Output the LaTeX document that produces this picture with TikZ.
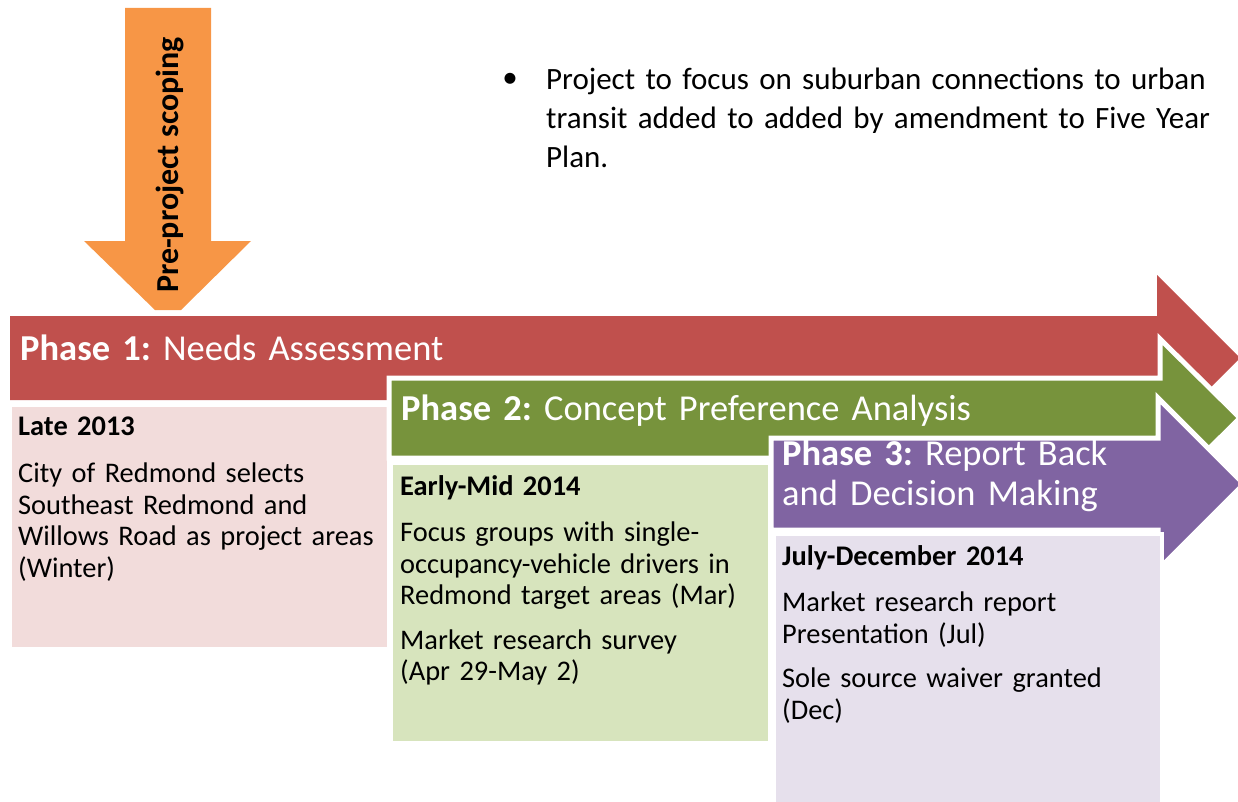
\documentclass[tikz,border=0pt]{standalone}
\usepackage{fontspec}
\setmainfont{Carlito}
\frenchspacing

% colours of the phases and of their boxes
\definecolor{scopeorange}{HTML}{F79646}
\definecolor{phaseonered}{HTML}{C0504D}
\definecolor{phasetwogreen}{HTML}{77933C}
\definecolor{phasethreepurple}{HTML}{8064A2}
\definecolor{phaseonebox}{HTML}{F2DCDB}
\definecolor{phasetwobox}{HTML}{D7E4BD}
\definecolor{phasethreebox}{HTML}{E6E0EC}

\tikzset{
  phasearrow/.style={draw=white, line width=5pt, line join=miter},
  datebox/.style={draw=white, line width=4pt},
  phasetitle/.style={anchor=base west, inner sep=0pt, text=white, align=left,
    text width=460pt, font=\fontsize{36.5}{40}\selectfont},
  boxtext/.style={anchor=base west, inner sep=0pt, align=left,
    text width=420pt, font=\fontsize{28.4}{31.5}\selectfont},
}

\begin{document}
\begin{tikzpicture}[x=1pt, y=-1pt]

    % Fix the page to the size of the reference
    \useasboundingbox (0,0) rectangle (1238,802);

    % Orange arrow for the pre-project scoping, pointing down onto phase 1
    \fill[scopeorange] (125,8) -- (211,8) -- (211,241) -- (251,241)
        -- (181,310) -- (155,310) -- (84,241) -- (125,241) -- cycle;
    \node[rotate=90, inner sep=0pt, font=\bfseries\fontsize{32}{36}\selectfont]
        (scoping) at (170,165) {Pre-project scoping};

    % Bullet point at the top right
    \node[inner sep=0pt, font=\fontsize{31}{39}\selectfont] (bullet) at (510,80) {\textbullet};
    \node[anchor=base west, inner sep=0pt, align=left, text width=700pt,
        font=\fontsize{31}{39}\selectfont] (note) at (546,90)
        {Project to focus on suburban connections to urban\\
         transit added to added by amendment to Five Year\\
         Plan.};

    % Phase 1: red arrow and its box
    \fill[phaseonered] (10,316) -- (1157,316) -- (1157,275) -- (1240,358)
        -- (1157,441) -- (1157,400) -- (10,400) -- cycle;
    \node[phasetitle] (phaseone) at (20,360)
        {\textbf{Phase 1:} Needs Assessment};
    \filldraw[datebox, fill=phaseonebox] (10,405) rectangle (389,649);
    \node[boxtext] (late) at (18,435)
        {\textbf{Late 2013}\\[16pt]
         City of Redmond selects\\
         Southeast Redmond and\\
         Willows Road as project areas\\
         (Winter)};

    % Phase 2: green arrow and its box
    \filldraw[phasearrow, fill=phasetwogreen] (389,378) -- (1160,378) -- (1160,339)
        -- (1240,418) -- (1160,497) -- (1160,458) -- (389,458) -- cycle;
    \node[phasetitle, text width=700pt] (phasetwo) at (401,420)
        {\textbf{Phase 2:} Concept Preference Analysis};
    \filldraw[datebox, fill=phasetwobox] (391,463) rectangle (770,743);
    \node[boxtext] (earlymid) at (400,495)
        {\textbf{Early-Mid 2014}\\[15pt]
         Focus groups with single-\\
         occupancy-vehicle drivers in\\
         Redmond target areas (Mar)\\[13pt]
         Market research survey\\
         (Apr 29-May 2)};

    % Phase 3: purple arrow and its box
    \filldraw[phasearrow, fill=phasethreepurple] (771,438) -- (1158,438) -- (1158,398)
        -- (1244,484) -- (1158,570) -- (1158,530) -- (771,530) -- cycle;
    \node[phasetitle] (phasethree) at (782,465)
        {\textbf{Phase 3:} Report Back\\
         and Decision Making};
    \filldraw[datebox, fill=phasethreebox] (774,534) rectangle (1162,812);
    \node[boxtext] (julydec) at (782,565)
        {\textbf{July-December 2014}\\[15pt]
         Market research report\\
         Presentation (Jul)\\[13pt]
         Sole source waiver granted\\
         (Dec)};

\end{tikzpicture}
\end{document}
